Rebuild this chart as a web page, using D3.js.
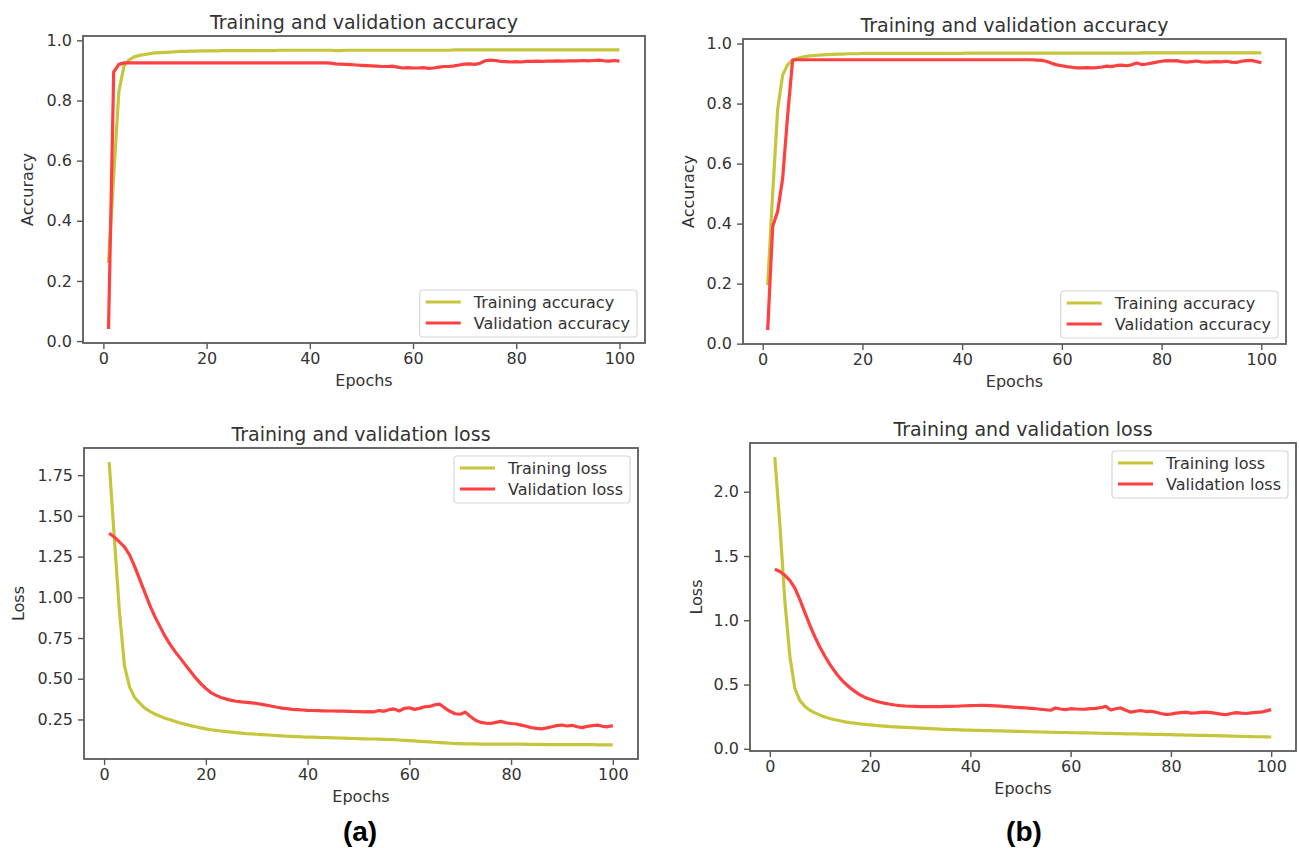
<!DOCTYPE html>
<html lang="en">
<head>
<meta charset="UTF-8">
<title>Training and validation accuracy / loss</title>
<script src="https://cdnjs.cloudflare.com/ajax/libs/d3/7.8.5/d3.min.js"></script>
<style>
  body { margin: 0; background: #fff; }
  svg text { font-family: "DejaVu Sans", sans-serif; fill: #333; }
  .frame { fill: none; stroke: #5a5a5a; stroke-width: 1.8; }
  .tick line { stroke: #555; stroke-width: 1.4; }
  .tick text { font-size: 16px; }
  .title { font-size: 19px; }
  .axis-label { font-size: 16px; }
  .legend-box { fill: #fff; fill-opacity: 0.85; stroke: #d6d6d6; stroke-width: 1.2; }
  .legend text { font-size: 16px; }
  .panel-tag { font-family: "Liberation Sans", Arial, sans-serif; font-weight: bold; font-size: 28px; fill: #000; }
</style>
</head>
<body>
<svg id="chart" width="1299" height="848"></svg>
<script>
// epochs 1..100
const epochs = d3.range(1, 101);
const epochTicks = [0, 20, 40, 60, 80, 100];
const accTicks = [0.0, 0.2, 0.4, 0.6, 0.8, 1.0];
const lossTicksA = [0.25, 0.5, 0.75, 1.0, 1.25, 1.5, 1.75];
const lossTicksB = [0.0, 0.5, 1.0, 1.5, 2.0];

// (a) accuracy
const trainAccA = [
  0.26, 0.55, 0.83, 0.915, 0.935, 0.945, 0.950, 0.953, 0.956, 0.958,
  0.959, 0.960, 0.961, 0.962, 0.963, 0.963, 0.964, 0.964, 0.965, 0.965,
  0.965, 0.965, 0.966, 0.966, 0.966, 0.966, 0.966, 0.966, 0.966, 0.966,
  0.966, 0.966, 0.966, 0.967, 0.967, 0.967, 0.967, 0.967, 0.967, 0.967,
  0.967, 0.967, 0.967, 0.967, 0.966, 0.966, 0.967, 0.967, 0.967, 0.967,
  0.967, 0.967, 0.967, 0.967, 0.967, 0.967, 0.967, 0.967, 0.967, 0.967,
  0.967, 0.967, 0.967, 0.967, 0.967, 0.967, 0.967, 0.968, 0.968, 0.968,
  0.968, 0.968, 0.968, 0.968, 0.968, 0.968, 0.968, 0.968, 0.968, 0.968,
  0.968, 0.968, 0.968, 0.968, 0.968, 0.968, 0.968, 0.968, 0.968, 0.968,
  0.968, 0.968, 0.968, 0.968, 0.968, 0.968, 0.968, 0.968, 0.968, 0.968
];
const valAccA = [
  0.04, 0.895, 0.920, 0.925, 0.925, 0.925, 0.925, 0.925, 0.925, 0.925,
  0.925, 0.925, 0.925, 0.925, 0.925, 0.925, 0.925, 0.925, 0.925, 0.925,
  0.925, 0.925, 0.925, 0.925, 0.925, 0.925, 0.925, 0.925, 0.925, 0.925,
  0.925, 0.925, 0.925, 0.925, 0.925, 0.925, 0.925, 0.925, 0.925, 0.925,
  0.925, 0.925, 0.925, 0.924, 0.922, 0.921, 0.920, 0.919, 0.918, 0.917,
  0.916, 0.915, 0.914, 0.913, 0.913, 0.914, 0.911, 0.908, 0.909, 0.908,
  0.908, 0.909, 0.907, 0.908, 0.911, 0.913, 0.913, 0.915, 0.918, 0.921,
  0.922, 0.920, 0.924, 0.932, 0.934, 0.933, 0.930, 0.929, 0.928, 0.929,
  0.928, 0.930, 0.930, 0.931, 0.930, 0.931, 0.931, 0.932, 0.931, 0.932,
  0.932, 0.932, 0.933, 0.932, 0.933, 0.934, 0.932, 0.931, 0.933, 0.931
];

// (b) accuracy
const trainAccB = [
  0.195, 0.50, 0.78, 0.895, 0.930, 0.945, 0.951, 0.955, 0.958, 0.960,
  0.961, 0.962, 0.963, 0.964, 0.965, 0.965, 0.966, 0.966, 0.966, 0.967,
  0.967, 0.967, 0.967, 0.967, 0.967, 0.967, 0.967, 0.967, 0.967, 0.967,
  0.967, 0.967, 0.967, 0.967, 0.967, 0.967, 0.967, 0.967, 0.967, 0.967,
  0.968, 0.968, 0.968, 0.968, 0.968, 0.968, 0.968, 0.968, 0.968, 0.968,
  0.968, 0.968, 0.968, 0.968, 0.968, 0.968, 0.968, 0.968, 0.968, 0.968,
  0.968, 0.968, 0.968, 0.968, 0.968, 0.968, 0.968, 0.968, 0.968, 0.968,
  0.968, 0.968, 0.968, 0.968, 0.968, 0.969, 0.969, 0.969, 0.969, 0.969,
  0.969, 0.969, 0.969, 0.969, 0.969, 0.969, 0.969, 0.969, 0.969, 0.969,
  0.969, 0.969, 0.969, 0.969, 0.969, 0.969, 0.969, 0.969, 0.969, 0.969
];
const valAccB = [
  0.045, 0.39, 0.44, 0.55, 0.76, 0.945, 0.946, 0.946, 0.946, 0.946,
  0.946, 0.946, 0.946, 0.946, 0.946, 0.946, 0.946, 0.946, 0.946, 0.946,
  0.946, 0.946, 0.946, 0.946, 0.946, 0.946, 0.946, 0.946, 0.946, 0.946,
  0.946, 0.946, 0.946, 0.946, 0.946, 0.946, 0.946, 0.946, 0.946, 0.946,
  0.946, 0.946, 0.946, 0.946, 0.946, 0.946, 0.946, 0.946, 0.946, 0.946,
  0.946, 0.946, 0.946, 0.946, 0.945, 0.944, 0.940, 0.934, 0.929, 0.926,
  0.923, 0.921, 0.919, 0.919, 0.920, 0.919, 0.920, 0.922, 0.925, 0.923,
  0.927, 0.928, 0.926, 0.929, 0.935, 0.930, 0.932, 0.935, 0.938, 0.941,
  0.943, 0.942, 0.943, 0.940, 0.938, 0.940, 0.942, 0.939, 0.938, 0.939,
  0.940, 0.939, 0.941, 0.938, 0.937, 0.941, 0.943, 0.944, 0.940, 0.936
];

// (a) loss
const trainLossA = [
  1.83, 1.37, 0.92, 0.58, 0.45, 0.385, 0.35, 0.32, 0.30, 0.283,
  0.270, 0.258, 0.248, 0.238, 0.228, 0.220, 0.212, 0.205, 0.198, 0.192,
  0.187, 0.183, 0.179, 0.175, 0.172, 0.169, 0.166, 0.163, 0.161, 0.159,
  0.157, 0.155, 0.153, 0.151, 0.149, 0.147, 0.146, 0.145, 0.143, 0.142,
  0.141, 0.140, 0.139, 0.138, 0.137, 0.136, 0.135, 0.134, 0.133, 0.132,
  0.131, 0.130, 0.130, 0.129, 0.128, 0.127, 0.126, 0.124, 0.122, 0.120,
  0.118, 0.116, 0.114, 0.112, 0.110, 0.108, 0.106, 0.104, 0.102, 0.101,
  0.100, 0.100, 0.100, 0.099, 0.099, 0.099, 0.099, 0.099, 0.098, 0.098,
  0.098, 0.098, 0.097, 0.097, 0.097, 0.097, 0.096, 0.096, 0.096, 0.096,
  0.096, 0.095, 0.095, 0.095, 0.095, 0.095, 0.094, 0.094, 0.094, 0.094
];
const valLossA = [
  1.394, 1.37, 1.34, 1.31, 1.26, 1.19, 1.11, 1.03, 0.95, 0.88,
  0.82, 0.76, 0.71, 0.665, 0.625, 0.585, 0.545, 0.505, 0.47, 0.44,
  0.415, 0.398, 0.385, 0.375, 0.367, 0.362, 0.358, 0.355, 0.352, 0.348,
  0.343, 0.337, 0.331, 0.325, 0.320, 0.316, 0.312, 0.310, 0.308, 0.306,
  0.305, 0.304, 0.303, 0.302, 0.302, 0.301, 0.301, 0.300, 0.299, 0.298,
  0.296, 0.298, 0.296, 0.305, 0.300, 0.310, 0.315, 0.302, 0.318, 0.322,
  0.312, 0.318, 0.328, 0.330, 0.340, 0.344, 0.320, 0.300, 0.285, 0.282,
  0.295, 0.268, 0.245, 0.232, 0.228, 0.225, 0.232, 0.238, 0.230, 0.225,
  0.222, 0.215, 0.208, 0.200, 0.195, 0.192, 0.198, 0.205, 0.212, 0.216,
  0.210, 0.214, 0.205, 0.200, 0.208, 0.212, 0.215, 0.208, 0.205, 0.212
];

// (b) loss
const trainLossB = [
  2.27, 1.75, 1.15, 0.72, 0.47, 0.375, 0.33, 0.30, 0.28, 0.262,
  0.248, 0.236, 0.226, 0.218, 0.210, 0.204, 0.199, 0.194, 0.190, 0.186,
  0.182, 0.179, 0.176, 0.173, 0.171, 0.169, 0.167, 0.165, 0.163, 0.161,
  0.159, 0.157, 0.155, 0.153, 0.152, 0.150, 0.149, 0.148, 0.146, 0.145,
  0.144, 0.143, 0.142, 0.141, 0.140, 0.139, 0.138, 0.137, 0.136, 0.135,
  0.134, 0.133, 0.132, 0.131, 0.130, 0.129, 0.128, 0.127, 0.127, 0.126,
  0.125, 0.124, 0.124, 0.123, 0.122, 0.121, 0.120, 0.120, 0.119, 0.118,
  0.117, 0.116, 0.116, 0.115, 0.114, 0.113, 0.112, 0.112, 0.111, 0.110,
  0.109, 0.108, 0.107, 0.106, 0.105, 0.104, 0.104, 0.103, 0.102, 0.101,
  0.100, 0.099, 0.098, 0.097, 0.096, 0.095, 0.094, 0.094, 0.093, 0.092
];
const valLossB = [
  1.397, 1.38, 1.35, 1.31, 1.25, 1.16, 1.06, 0.96, 0.87, 0.79,
  0.72, 0.655, 0.60, 0.55, 0.51, 0.475, 0.445, 0.42, 0.40, 0.385,
  0.372, 0.362, 0.354, 0.347, 0.341, 0.336, 0.333, 0.331, 0.330, 0.329,
  0.328, 0.328, 0.328, 0.329, 0.330, 0.330, 0.331, 0.333, 0.335, 0.336,
  0.337, 0.338, 0.338, 0.336, 0.334, 0.332, 0.329, 0.326, 0.323, 0.321,
  0.318, 0.315, 0.312, 0.308, 0.304, 0.300, 0.318, 0.310, 0.305, 0.312,
  0.310, 0.308, 0.309, 0.312, 0.315, 0.320, 0.330, 0.302, 0.312, 0.318,
  0.300, 0.285, 0.292, 0.298, 0.290, 0.292, 0.285, 0.275, 0.268, 0.270,
  0.278, 0.282, 0.285, 0.278, 0.280, 0.283, 0.285, 0.282, 0.276, 0.270,
  0.265, 0.275, 0.282, 0.278, 0.275, 0.280, 0.283, 0.285, 0.295, 0.305
];

const trainColor = "#c6c63c";
const valColor = "#ff4040";

// frame positions of the four axes (pixels)
const panels = [
  { left: 83, right: 645, top: 36, bottom: 343, title: "Training and validation accuracy", ylabel: "Accuracy",
    train: trainAccA, val: valAccA, names: ["Training accuracy", "Validation accuracy"],
    yTicks: accTicks, fmt: ".1f", legendAt: "lower", ylabelOff: 56 },
  { left: 743, right: 1286, top: 39, bottom: 344, title: "Training and validation accuracy", ylabel: "Accuracy",
    train: trainAccB, val: valAccB, names: ["Training accuracy", "Validation accuracy"],
    yTicks: accTicks, fmt: ".1f", legendAt: "lower", ylabelOff: 55 },
  { left: 84, right: 638, top: 448, bottom: 759, title: "Training and validation loss", ylabel: "Loss",
    train: trainLossA, val: valLossA, names: ["Training loss", "Validation loss"],
    yTicks: lossTicksA, fmt: ".2f", legendAt: "upper", ylabelOff: 66 },
  { left: 750, right: 1296, top: 443, bottom: 751, title: "Training and validation loss", ylabel: "Loss",
    train: trainLossB, val: valLossB, names: ["Training loss", "Validation loss"],
    yTicks: lossTicksB, fmt: ".1f", legendAt: "upper", ylabelOff: 54 }
];

const svg = d3.select("#chart");

panels.forEach(p => {
  const g = svg.append("g");
  const all = p.train.concat(p.val);
  const lo = d3.min(all), hi = d3.max(all), pad = (hi - lo) * 0.05;

  const x = d3.scaleLinear().domain([1 - 99 * 0.05, 100 + 99 * 0.05]).range([p.left, p.right]);
  const y = d3.scaleLinear().domain([lo - pad, hi + pad]).range([p.bottom, p.top]);

  const xAxis = g.append("g")
    .attr("transform", `translate(0,${p.bottom})`)
    .call(d3.axisBottom(x).tickValues(epochTicks).tickFormat(d3.format("d")).tickSize(6).tickPadding(4));
  const yAxis = g.append("g")
    .attr("transform", `translate(${p.left},0)`)
    .call(d3.axisLeft(y)
      .tickValues(p.yTicks.filter(t => t >= y.domain()[0] && t <= y.domain()[1]))
      .tickFormat(d3.format(p.fmt)).tickSize(6).tickPadding(5));
  [xAxis, yAxis].forEach(a => {
    a.select(".domain").remove();
    a.attr("font-family", null).attr("font-size", null);
    a.selectAll(".tick text").attr("fill", "#333");
  });

  const line = d3.line().x((d, i) => x(epochs[i])).y(d => y(d));
  g.append("path").datum(p.train)
    .attr("d", line).attr("fill", "none")
    .attr("stroke", trainColor).attr("stroke-width", 3.2).attr("stroke-linejoin", "round");
  g.append("path").datum(p.val)
    .attr("d", line).attr("fill", "none")
    .attr("stroke", valColor).attr("stroke-width", 3.2).attr("stroke-linejoin", "round");

  g.append("rect").attr("class", "frame")
    .attr("x", p.left).attr("y", p.top)
    .attr("width", p.right - p.left).attr("height", p.bottom - p.top);

  const cx = (p.left + p.right) / 2;
  g.append("text").attr("class", "title")
    .attr("x", cx).attr("y", p.top - 7)
    .attr("text-anchor", "middle").text(p.title);
  g.append("text").attr("class", "axis-label")
    .attr("x", cx).attr("y", p.bottom + 43)
    .attr("text-anchor", "middle").text("Epochs");
  g.append("text").attr("class", "axis-label")
    .attr("transform", `translate(${p.left - p.ylabelOff},${(p.top + p.bottom) / 2}) rotate(-90)`)
    .attr("dy", "0.35em")
    .attr("text-anchor", "middle").text(p.ylabel);

  // legend
  const lg = g.append("g").attr("class", "legend");
  const box = lg.append("rect").attr("class", "legend-box").attr("rx", 3);
  const texts = p.names.map((n, i) => lg.append("text").attr("y", 12 + i * 21).attr("dy", "0.35em").attr("x", 54).text(n));
  p.names.forEach((n, i) => {
    lg.append("line")
      .attr("x1", 6).attr("x2", 41)
      .attr("y1", 12 + i * 21).attr("y2", 12 + i * 21)
      .attr("stroke", i === 0 ? trainColor : valColor).attr("stroke-width", 3.2);
  });
  const tw = d3.max(texts, t => t.node().getComputedTextLength());
  const bw = 54 + tw + 7, bh = 47;
  box.attr("width", bw).attr("height", bh);
  const bx = p.right - 8 - bw;
  const by = p.legendAt === "lower" ? p.bottom - 6 - bh : p.top + 8;
  lg.attr("transform", `translate(${bx},${by})`);
});

svg.append("text").attr("class", "panel-tag").attr("x", 360).attr("y", 841).attr("text-anchor", "middle").text("(a)");
svg.append("text").attr("class", "panel-tag").attr("x", 1024).attr("y", 841).attr("text-anchor", "middle").text("(b)");
</script>
</body>
</html>
